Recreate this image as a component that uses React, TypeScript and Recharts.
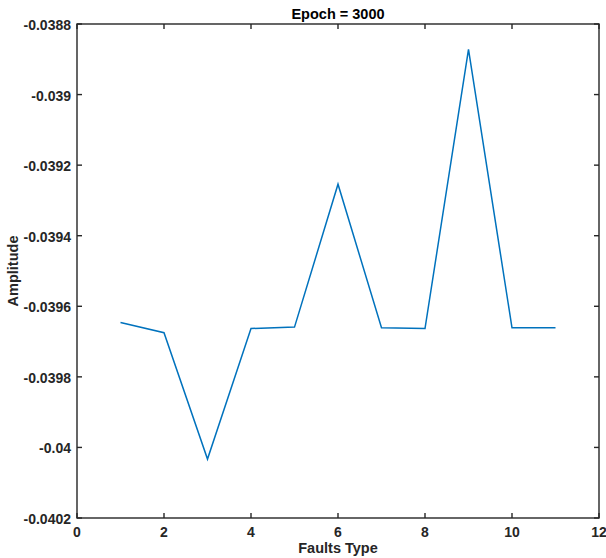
import React from 'react';
import * as R from 'recharts';
import { LineChart, Line, XAxis, YAxis, Customized } from 'recharts';

const faultTypes = [1, 2, 3, 4, 5, 6, 7, 8, 9, 10, 11];
const amplitudes = [
  -0.039646, -0.039675, -0.040033, -0.039663, -0.039659, -0.039254,
  -0.039661, -0.039663, -0.038872, -0.039661, -0.039661,
];
const xTicks = [0, 2, 4, 6, 8, 10, 12];
const yTicks = [-0.0402, -0.04, -0.0398, -0.0396, -0.0394, -0.0392, -0.039, -0.0388];
const xDomain = [0, 12];
const yDomain = [-0.0402, -0.0388];
const titleText = 'Epoch = 3000';
const xLabel = 'Faults Type';
const yLabel = 'Amplitude';

const data = faultTypes.map((f, i) => ({ f, a: amplitudes[i] }));

const AX = '#262626';
const FONT = 'Liberation Sans, Arial, sans-serif';
const TICK = 5;
const MARGIN = { top: 24, right: 7, bottom: 0, left: 0 };
const W = 606;
const H = 558;
const XAXIS_H = 40;
const YAXIS_W = 77;
const fmtY = (v: number) => String(parseFloat(Number(v).toPrecision(4)));

const RA: any = R;
const usePlot: () => any =
  typeof RA.usePlotArea === 'function' ? RA.usePlotArea : () => null;

const BottomTick = (p: any) => (
  <text
    x={p.x}
    y={p.y + 14}
    textAnchor="middle"
    dominantBaseline="central"
    fontFamily={FONT}
    fontWeight="bold"
    fontSize={14}
    fill={AX}
  >
    {String(p.payload.value)}
  </text>
);

const LeftTick = (p: any) => (
  <text
    x={p.x - 6}
    y={p.y + 1}
    textAnchor="end"
    dominantBaseline="central"
    fontFamily={FONT}
    fontWeight="bold"
    fontSize={14}
    fill={AX}
  >
    {fmtY(p.payload.value)}
  </text>
);

const ok = (v: any) => typeof v === 'number' && isFinite(v);

// box frame with inward ticks on all four sides (MATLAB style)
const Frame = () => {
  const pa = usePlot();
  const valid = pa && ok(pa.x) && ok(pa.y) && ok(pa.width) && ok(pa.height) && pa.width > 0 && pa.height > 0;
  const x0 = valid ? pa.x : MARGIN.left + YAXIS_W;
  const y0 = valid ? pa.y : MARGIN.top;
  const w = valid ? pa.width : W - MARGIN.right - x0;
  const h = valid ? pa.height : H - MARGIN.bottom - XAXIS_H - y0;
  const px = (v: number) => x0 + ((v - xDomain[0]) / (xDomain[1] - xDomain[0])) * w;
  const py = (v: number) => y0 + h - ((v - yDomain[0]) / (yDomain[1] - yDomain[0])) * h;
  return (
    <g stroke={AX} strokeWidth={1.4} fill="none">
      <rect x={x0} y={y0} width={w} height={h} />
      {xTicks.map((t) => (
        <g key={'x' + t}>
          <line x1={px(t)} y1={y0 + h} x2={px(t)} y2={y0 + h - TICK} />
          <line x1={px(t)} y1={y0} x2={px(t)} y2={y0 + TICK} />
        </g>
      ))}
      {yTicks.map((t) => (
        <g key={'y' + t}>
          <line x1={x0} y1={py(t)} x2={x0 + TICK} y2={py(t)} />
          <line x1={x0 + w} y1={py(t)} x2={x0 + w - TICK} y2={py(t)} />
        </g>
      ))}
    </g>
  );
};

const Texts = () => (
  <g fontFamily={FONT} fontWeight="bold">
    <text x={338} y={14} textAnchor="middle" dominantBaseline="central" fontSize={14.5} fill="#000">
      {titleText}
    </text>
    <text x={338} y={548} textAnchor="middle" dominantBaseline="central" fontSize={14.5} fill={AX}>
      {xLabel}
    </text>
    <text
      x={13}
      y={271}
      textAnchor="middle"
      dominantBaseline="central"
      fontSize={14.5}
      fill={AX}
      transform="rotate(-90 13 271)"
    >
      {yLabel}
    </text>
  </g>
);

export default function App() {
  return (
    <div style={{ position: 'absolute', left: 0, top: 0, width: W, height: H, background: '#fff' }}>
      <LineChart width={W} height={H} data={data} margin={MARGIN}>
        <XAxis
          dataKey="f"
          type="number"
          domain={xDomain}
          ticks={xTicks}
          height={XAXIS_H}
          tickSize={0}
          tickMargin={0}
          tickLine={false}
          tick={BottomTick}
          axisLine={false}
          interval={0}
        />
        <YAxis
          type="number"
          domain={yDomain}
          ticks={yTicks}
          width={YAXIS_W}
          tickSize={0}
          tickMargin={0}
          tickLine={false}
          tick={LeftTick}
          axisLine={false}
          interval={0}
          allowDataOverflow
        />
        <Line
          type="linear"
          dataKey="a"
          stroke="#0072BD"
          strokeWidth={1.5}
          dot={false}
          activeDot={false}
          isAnimationActive={false}
        />
        <Customized component={Frame} />
        <Customized component={Texts} />
      </LineChart>
    </div>
  );
}
